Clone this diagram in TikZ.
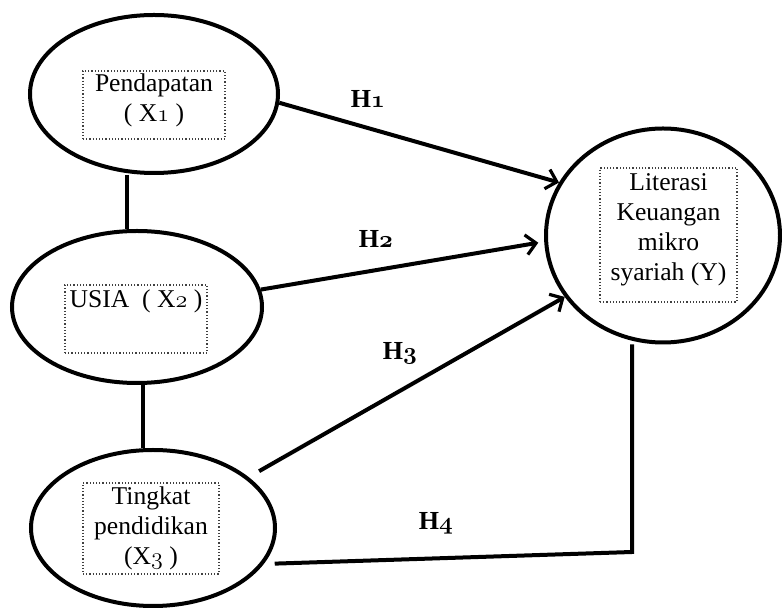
\documentclass[tikz,border=0pt]{standalone}
\usepackage{fontspec}
\setmainfont{Liberation Serif}
\usetikzlibrary{arrows.meta, positioning, shapes.geometric}
\tikzset{
  >={Straight Barb[length=5pt, width=10pt, line width=1.6pt]},
  var/.style={ellipse, draw=black, line width=2pt, inner sep=0pt},
  tbox/.style={rectangle, draw=black!75, densely dotted, line width=0.6pt, inner sep=0pt},
  txt/.style={align=center, inner sep=0pt, font=\fontsize{12.8}{15}\selectfont},
  hyp/.style={anchor=base, inner sep=0pt, font=\fontsize{13}{15}\selectfont\bfseries},
  flow/.style={->, line width=2pt},
  link/.style={line width=2pt},
}
\newcommand{\osn}[1]{{\usefont{OML}{cmm}{m}{it}#1}}
\newcommand{\osnb}[1]{{\usefont{OML}{cmm}{b}{it}#1}}

\begin{document}
\begin{tikzpicture}[x=0.5pt, y=-0.5pt]
  \useasboundingbox (0,0) rectangle (782,608);
  % latent variables
  \node[var, minimum width=124pt, minimum height=79pt] (x1) at (154,94) {};
  \node[var, minimum width=125pt, minimum height=76pt] (x2) at (137,307) {};
  \node[var, minimum width=122pt, minimum height=78pt] (x3) at (153,528) {};
  \node[var, minimum width=117pt, minimum height=107pt] (y) at (663,235.5) {};
  % dotted text boxes
  \node[tbox, minimum width=71pt, minimum height=34pt] (b1) at (154,105) {};
  \node[txt, below=1.5pt of b1.north] (t1) {Pendapatan\\( X\osn{1} )};
  \node[tbox, minimum width=71pt, minimum height=34pt] (b2) at (136,319) {};
  \node[txt, below=2.5pt of b2.north] (t2) {USIA\ \ ( X\osn{2} )};
  \node[tbox, minimum width=68pt, minimum height=45.5pt] (b3) at (151,528.5) {};
  \node[txt, below=2pt of b3.north] (t3) {Tingkat\\pendidikan\\(X\osn{3} )};
  \node[tbox, minimum width=68.5pt, minimum height=67pt] (b4) at (668.5,235) {};
  \node[txt, below=3pt of b4.north] (t4) {Literasi\\Keuangan\\mikro\\syariah (Y)};
  % correlations
  \draw[link] ([xshift=-13.5pt]x1.south) -- ([xshift=-13.5pt]x1.south |- x2.north);
  \draw[link] ([xshift=3pt]x2.south) -- ([xshift=3pt]x2.south |- x3.north);
  % hypotheses
  \draw[flow] (x1.-4) -- (y.153);
  \draw[flow, shorten >=3pt] (x2.8) -- (y.183);
  \draw[flow, shorten <=6pt] (x3.28) -- (y.212);
  \coordinate (h4c) at (632,552);
  \draw[link, shorten <=5.5pt] (x3.-18) -- (h4c) -- (h4c |- y.south);
  \node[hyp] (h1) at (368,108) {H\osnb{1}};
  \node[hyp] (h2) at (376,248) {H\osnb{2}};
  \node[hyp] (h3) at (400,360) {H\osnb{3}};
  \node[hyp] (h4) at (436,530) {H\osnb{4}};
\end{tikzpicture}
\end{document}
